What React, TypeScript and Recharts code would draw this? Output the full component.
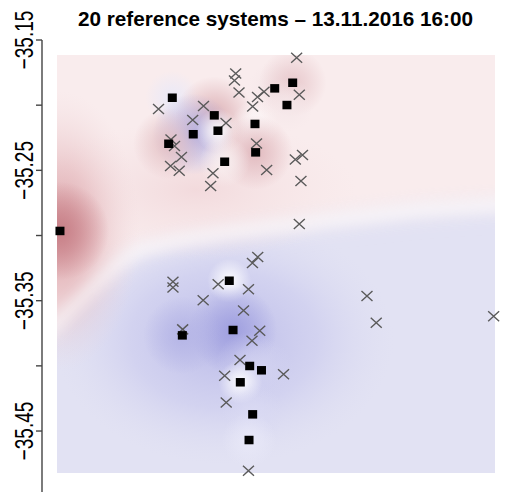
import React from 'react';
import { ScatterChart, Scatter, XAxis, YAxis, ReferenceArea } from 'recharts';

const chartTitle = '20 reference systems – 13.11.2016 16:00';

// 20 reference systems (black squares) and their deviation (red > 0, blue < 0)
const refLon = [148.9463, 149.0482, 149.0863, 149.0672, 149.0896, 149.0449, 149.1232, 149.1238, 149.0957, 149.1411, 149.1574, 149.1522, 149.0999, 149.1033, 149.0573, 149.1184, 149.1291, 149.1099, 149.1211, 149.1178];
const refLat = [-35.2965, -35.1943, -35.2078, -35.2223, -35.2196, -35.2296, -35.2144, -35.2362, -35.2434, -35.1871, -35.1828, -35.1999, -35.3347, -35.3725, -35.3766, -35.4001, -35.4034, -35.4126, -35.4372, -35.4569];
const refDeviation = [0.8, -0.15, 0.5, -0.55, 0.0, 0.4, 0.05, 0.45, 0.1, 0.15, 0.35, 0.15, 0.0, -0.65, -0.5, -0.35, -0.3, 0.0, -0.25, -0.15];

// other systems (grey crosses)
const obsLon = [149.1610, 149.1057, 149.1046, 149.1087, 149.0357, 149.0765, 149.0667, 149.0969, 149.1211, 149.1255, 149.1314, 149.1634, 149.0470, 149.0502, 149.0565, 149.0466, 149.0545, 149.0851, 149.0830, 149.1246, 149.1338, 149.1598, 149.1663, 149.1649, 149.1634,
  149.1257, 149.1209, 149.0488, 149.0488, 149.0898, 149.1173, 149.0762, 149.1128, 149.0576, 149.1275, 149.1205, 149.1096, 149.0957, 149.1491, 149.0971, 149.1173, 149.2248, 149.2332, 149.3397];
const obsLat = [-35.1636, -35.1757, -35.1811, -35.1903, -35.2029, -35.2006, -35.2114, -35.2137, -35.2010, -35.1937, -35.1897, -35.1920, -35.2263, -35.2313, -35.2398, -35.2467, -35.2503, -35.2523, -35.2620, -35.2294, -35.2497, -35.2417, -35.2382, -35.2582, -35.2912,
  -35.3165, -35.3211, -35.3355, -35.3399, -35.3374, -35.3413, -35.3497, -35.3575, -35.3720, -35.3730, -35.3807, -35.3955, -35.4076, -35.4065, -35.4281, -35.4804, -35.3464, -35.3669, -35.3620];

// zero line of the interpolated field
const zeroLon = [148.9373, 148.9445, 148.9735, 149.0008, 149.0189, 149.0552, 149.1005, 149.1368, 149.2094, 149.2729, 149.3455];
const zeroLat = [-35.3725, -35.3664, -35.3418, -35.3203, -35.3111, -35.3034, -35.2973, -35.2935, -35.2866, -35.2804, -35.2766];

const fieldLon = [148.9436, 149.3409];
const fieldLat = [-35.4822, -35.1615];

const xDomain = [148.93, 149.35];
const yDomain = [-35.5, -35.15];
const yTicks = [-35.5, -35.45, -35.4, -35.35, -35.3, -35.25, -35.2, -35.15];
const yTickLabels = ['', '\u221235.45', '', '\u221235.35', '', '\u221235.25', '', '\u221235.15'];

const refData = refLon.map((lon, i) => ({ lon, lat: refLat[i], dev: refDeviation[i] }));
const obsData = obsLon.map((lon, i) => ({ lon, lat: obsLat[i] }));

const FONT = '"Liberation Sans", Arial, Helvetica, sans-serif';

function devColor(v: number) {
  const t = Math.min(1, Math.abs(v));
  const target = v >= 0 ? [185, 95, 105] : [105, 105, 205];
  const c = target.map((k) => Math.round(255 + (k - 255) * t));
  return `rgb(${c[0]},${c[1]},${c[2]})`;
}

function FieldLayer(p: any) {
  const { x, y, width, height } = p;
  if (width == null || height == null) return null;
  const X = (lon: number) => x + ((lon - fieldLon[0]) / (fieldLon[1] - fieldLon[0])) * width;
  const Y = (lat: number) => y + ((fieldLat[1] - lat) / (fieldLat[1] - fieldLat[0])) * height;
  const pts = zeroLon.map((lon, i) => [X(lon), Y(zeroLat[i])]);
  const pad = 40;
  const rev = pts.slice().reverse();
  const pinkPath =
    `M${x - pad},${y - pad} L${x + width + pad},${y - pad} L${x + width + pad},${rev[0][1]} ` +
    rev.map(([a, b]) => `L${a},${b}`).join(' ') +
    ` L${x - pad},${pts[0][1]} Z`;
  const zeroPath = `M${x - pad},${pts[0][1]} ` + pts.map(([a, b]) => `L${a},${b}`).join(' ') + ` L${x + width + pad},${rev[0][1]}`;

  const blueC = [X(149.095), Y(-35.38)];
  const pinkC = [X(149.07), Y(-35.265)];
  const leftC = [X(refLon[0]), Y(refLat[0])];

  return (
    <g>
      <defs>
        <clipPath id="fieldClip">
          <rect x={x} y={y} width={width} height={height} />
        </clipPath>
        <filter id="blurBig" x="-50%" y="-50%" width="200%" height="200%">
          <feGaussianBlur stdDeviation={12} />
        </filter>
        <filter id="blurBand" x="-50%" y="-50%" width="200%" height="200%">
          <feGaussianBlur stdDeviation={7} />
        </filter>
        <radialGradient id="gBlue">
          <stop offset="0%" stopColor="rgb(186,186,232)" stopOpacity={1} />
          <stop offset="55%" stopColor="rgb(202,202,238)" stopOpacity={0.65} />
          <stop offset="100%" stopColor="rgb(220,220,242)" stopOpacity={0} />
        </radialGradient>
        <radialGradient id="gPink">
          <stop offset="0%" stopColor="rgb(240,212,215)" stopOpacity={0.75} />
          <stop offset="100%" stopColor="rgb(245,225,227)" stopOpacity={0} />
        </radialGradient>
        <radialGradient id="gLeft">
          <stop offset="0%" stopColor="rgb(210,142,148)" stopOpacity={0.9} />
          <stop offset="45%" stopColor="rgb(224,172,177)" stopOpacity={0.55} />
          <stop offset="100%" stopColor="rgb(240,215,218)" stopOpacity={0} />
        </radialGradient>
        {refData.map((d, i) => (
          <radialGradient id={`blob${i}`} key={i}>
            <stop offset="0%" stopColor={devColor(d.dev)} stopOpacity={0.95} />
            <stop offset="45%" stopColor={devColor(d.dev)} stopOpacity={0.55} />
            <stop offset="100%" stopColor={devColor(d.dev)} stopOpacity={0} />
          </radialGradient>
        ))}
      </defs>
      <g clipPath="url(#fieldClip)">
        <rect x={x} y={y} width={width} height={height} fill="rgb(226,226,243)" />
        <ellipse cx={blueC[0]} cy={blueC[1]} rx={170} ry={125} fill="url(#gBlue)" />
        <path d={pinkPath} fill="rgb(249,236,237)" filter="url(#blurBig)" />
        <ellipse cx={pinkC[0]} cy={pinkC[1]} rx={160} ry={70} fill="url(#gPink)" />
        <ellipse cx={leftC[0]} cy={leftC[1]} rx={80} ry={140} fill="url(#gLeft)" />
        <path d={zeroPath} fill="none" stroke="white" strokeWidth={10} opacity={0.7} filter="url(#blurBand)" />
        {refData.map((d, i) => {
          const r = 22 + 34 * Math.abs(d.dev);
          return <circle key={i} cx={X(d.lon)} cy={Y(d.lat)} r={r} fill={`url(#blob${i})`} />;
        })}
      </g>
    </g>
  );
}

function CrossShape(props: any) {
  const { cx, cy } = props;
  if (cx == null || cy == null) return null;
  const w = 5.5;
  const h = 5;
  return (
    <path
      d={`M${cx - w},${cy - h} L${cx + w},${cy + h} M${cx - w},${cy + h} L${cx + w},${cy - h}`}
      stroke="#5a5a5a"
      strokeWidth={1.4}
      fill="none"
    />
  );
}

function SquareShape(props: any) {
  const { cx, cy } = props;
  if (cx == null || cy == null) return null;
  return <rect x={cx - 4.5} y={cy - 4.25} width={9} height={8.5} fill="#000" />;
}

function YTick(props: any) {
  const { x, y, payload } = props;
  const idx = yTicks.indexOf(payload.value);
  const label = idx >= 0 ? yTickLabels[idx] : '';
  if (!label) return null;
  const bx = x - 1.5;
  return (
    <text
      transform={`translate(${bx},${y}) rotate(-90) scale(1,1.35)`}
      x={0}
      y={0}
      textAnchor="middle"
      fontFamily={FONT}
      fontSize={19}
      fill="#000"
    >
      {label}
    </text>
  );
}

export default function App() {
  return (
    <div style={{ position: 'absolute', left: 0, top: 0, width: 505, height: 492, overflow: 'hidden', background: '#fff' }}>
      <ScatterChart width={505} height={500} margin={{ top: 40, right: 0, bottom: 3.8, left: 0 }}>
        <XAxis type="number" dataKey="lon" domain={xDomain} hide allowDataOverflow />
        <YAxis
          type="number"
          dataKey="lat"
          domain={yDomain}
          ticks={yTicks}
          interval={0}
          width={42}
          tickSize={6}
          tickMargin={2}
          allowDataOverflow
          axisLine={{ stroke: '#444', strokeWidth: 1.4 }}
          tickLine={{ stroke: '#444', strokeWidth: 1.4 }}
          tick={<YTick />}
        />
        <ReferenceArea
          x1={fieldLon[0]}
          x2={fieldLon[1]}
          y1={fieldLat[0]}
          y2={fieldLat[1]}
          ifOverflow="visible"
          shape={(p: any) => <FieldLayer {...p} />}
        />
        <Scatter name="systems" data={obsData} shape={<CrossShape />} isAnimationActive={false} />
        <Scatter name="reference systems" data={refData} shape={<SquareShape />} isAnimationActive={false} />
      </ScatterChart>
      <svg width={505} height={40} style={{ position: 'absolute', left: 0, top: 0, pointerEvents: 'none' }}>
        <text
          x={275.5}
          y={26}
          textAnchor="middle"
          fontFamily={FONT}
          fontWeight="bold"
          fontSize={20.5}
          textLength={395}
          lengthAdjust="spacingAndGlyphs"
          fill="#000"
        >
          {chartTitle}
        </text>
      </svg>
    </div>
  );
}
